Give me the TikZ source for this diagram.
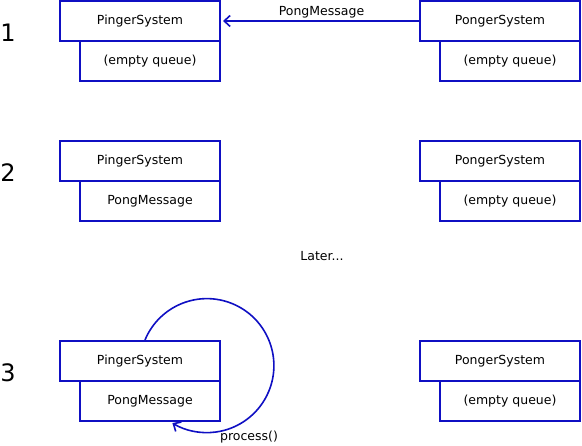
\documentclass[tikz,border=0pt]{standalone}
\usepackage{fontspec}
\setmainfont{DejaVu Sans}
\usepackage{tikz}
\usetikzlibrary{arrows.meta,positioning}
\definecolor{boxblue}{RGB}{15,15,195}
\tikzset{
  sysbox/.style={draw=boxblue, line width=2pt, minimum width=160pt, minimum height=40pt, inner sep=0pt, outer sep=0pt, font=\fontsize{12.5}{14}\selectfont},
  queuebox/.style={draw=boxblue, line width=2pt, minimum width=140pt, minimum height=40pt, inner sep=0pt, outer sep=0pt, font=\fontsize{12.5}{14}\selectfont, anchor=north east},
  stepnum/.style={font=\fontsize{24}{28}\selectfont},
  msgline/.style={draw=boxblue, line width=1.6pt, -{Straight Barb[length=6pt,width=11pt]}},
  plain/.style={font=\fontsize{12.5}{14}\selectfont}
}
\begin{document}
\begin{tikzpicture}[x=1pt,y=-1pt]
    \useasboundingbox (0,0) rectangle (582,446);
    \node[sysbox] (ping1) at (140,21) {PingerSystem};
    \node[queuebox] (pingq1) at (ping1.south east) {(empty queue)};
    \node[sysbox] (pong1) at (500,21) {PongerSystem};
    \node[queuebox] (pongq1) at (pong1.south east) {(empty queue)};
    \node[stepnum] (num1) at (8,33) {1};

    \node[sysbox] (ping2) at (140,161) {PingerSystem};
    \node[queuebox] (pingq2) at (ping2.south east) {PongMessage};
    \node[sysbox] (pong2) at (500,161) {PongerSystem};
    \node[queuebox] (pongq2) at (pong2.south east) {(empty queue)};
    \node[stepnum] (num2) at (8,173) {2};

    \node[plain] (later) at (322,256) {Later...};

    \node[sysbox] (ping3) at (140,361) {PingerSystem};
    \node[queuebox] (pingq3) at (ping3.south east) {PongMessage};
    \node[sysbox] (pong3) at (500,361) {PongerSystem};
    \node[queuebox] (pongq3) at (pong3.south east) {(empty queue)};
    \node[stepnum] (num3) at (8,373) {3};

    \draw[msgline] (pong1.west) -- node[plain, above=-1pt] {PongMessage} ([xshift=3pt]ping1.east);

    \coordinate (loopstart) at (145,340);
    \draw[msgline] (loopstart) arc[start angle=-157.5, end angle=121, radius=67];
    \node[plain] (proc) at (249,437) {process()};
\end{tikzpicture}
\end{document}
